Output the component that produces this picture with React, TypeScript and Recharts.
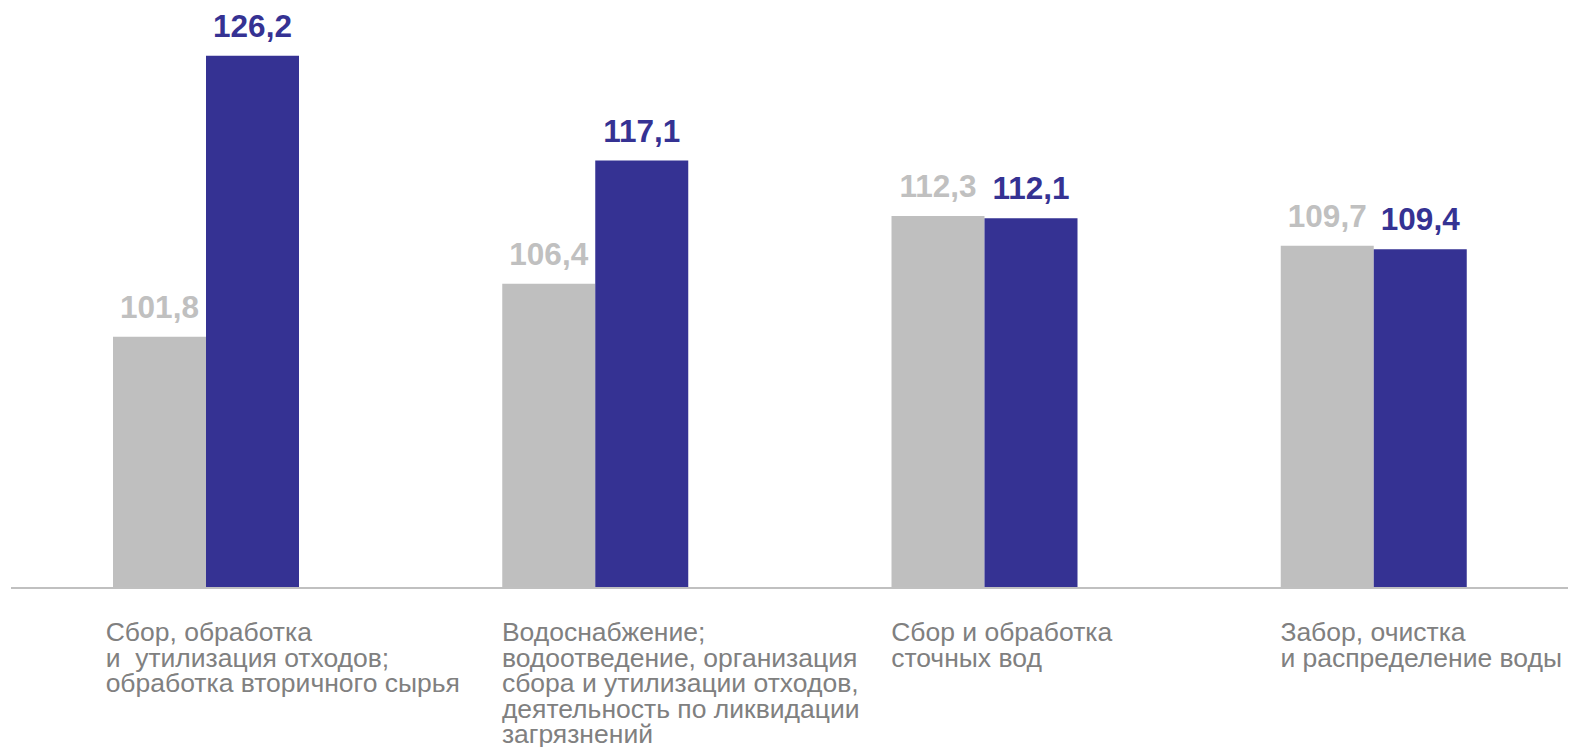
import React from "react";
import { BarChart, Bar, XAxis, YAxis, LabelList } from "recharts";

const categories: string[] = [
  "Сбор, обработка\nи  утилизация отходов;\nобработка вторичного сырья",
  "Водоснабжение;\nводоотведение, организация\nсбора и утилизации отходов,\nдеятельность по ликвидации\nзагрязнений",
  "Сбор и обработка\nсточных вод",
  "Забор, очистка\nи распределение воды",
];
const prevValues: number[] = [101.8, 106.4, 112.3, 109.7];
const currValues: number[] = [126.2, 117.1, 112.1, 109.4];

const data = categories.map((name, i) => ({
  name,
  prev: prevValues[i],
  curr: currValues[i],
}));

const FONT = '"Liberation Sans", Arial, sans-serif';
const GRAY = "#bfbfbf";
const BLUE = "#353293";
const labelDx = [-7, 0, 0, 0];

const fmt = (v: number) => v.toFixed(1).replace(".", ",");

const CategoryTick = (props: any) => {
  const { x, y, payload, index } = props;
  const lines = String(payload.value).split("\n");
  const left = x - 93 + (labelDx[index] ?? 0);
  return (
    <text
      x={left}
      y={y + 53}
      fill="#808080"
      fontSize={26.5}
      fontFamily={FONT}
      textAnchor="start"
      style={{ whiteSpace: "pre" }}
    >
      {lines.map((l, i) => (
        <tspan key={i} x={left} dy={i === 0 ? 0 : 25.6}>
          {l}
        </tspan>
      ))}
    </text>
  );
};

const makeLabel = (color: string) => (props: any) => {
  const { x, y, width, value } = props;
  return (
    <text
      x={Number(x) + Number(width) / 2}
      y={Number(y) - 19}
      textAnchor="middle"
      fill={color}
      fontSize={31.5}
      fontWeight="bold"
      fontFamily={FONT}
    >
      {fmt(Number(value))}
    </text>
  );
};

export default function App() {
  return (
    <div style={{ position: "absolute", left: 0, top: 0, background: "#fff" }}>
      <BarChart
        width={1572}
        height={747}
        data={data}
        margin={{ top: 12, right: 4, bottom: 0, left: 11 }}
        barGap={0}
        barSize={93}
      >
        <XAxis
          dataKey="name"
          interval={0}
          height={159}
          tickSize={0}
          tickMargin={0}
          tickLine={false}
          axisLine={{ stroke: "#c0c0c0", strokeWidth: 2 }}
          tick={<CategoryTick />}
          padding={{ left: 0, right: 0 }}
        />
        <YAxis hide domain={[80, 130]} allowDataOverflow />
        <Bar dataKey="prev" fill={GRAY} isAnimationActive={false}>
          <LabelList dataKey="prev" content={makeLabel("#c0c0c0")} />
        </Bar>
        <Bar dataKey="curr" fill={BLUE} isAnimationActive={false}>
          <LabelList dataKey="curr" content={makeLabel(BLUE)} />
        </Bar>
      </BarChart>
    </div>
  );
}
